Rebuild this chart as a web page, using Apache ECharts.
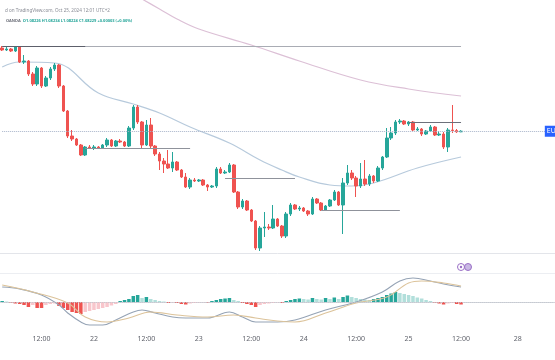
<!DOCTYPE html>
<html><head><meta charset="utf-8">
<script src="https://cdn.jsdelivr.net/npm/echarts/dist/echarts.min.js"></script>
<style>html,body{margin:0;padding:0;background:#fff}#c{width:555px;height:360px}</style>
</head><body><div id="c"></div><script>
// ---- data ----
// hourly candles [open, close, low, high], Oct 21 03:00 -> Oct 25 12:00
const candles = [
[1.08645,1.08635,1.08630,1.08655],[1.08635,1.08640,1.08630,1.08650],[1.08640,1.08630,1.08625,1.08645],[1.08630,1.08650,1.08625,1.08655],
[1.08650,1.08575,1.08570,1.08655],[1.08575,1.08580,1.08565,1.08610],[1.08580,1.08515,1.08505,1.08585],[1.08515,1.08465,1.08455,1.08525],
[1.08465,1.08545,1.08455,1.08555],[1.08545,1.08455,1.08445,1.08550],[1.08455,1.08495,1.08450,1.08505],[1.08495,1.08540,1.08485,1.08550],
[1.08540,1.08560,1.08530,1.08570],[1.08560,1.08455,1.08445,1.08565],[1.08455,1.08330,1.08325,1.08460],[1.08330,1.08205,1.08195,1.08335],
[1.08205,1.08190,1.08180,1.08235],[1.08190,1.08160,1.08155,1.08195],[1.08160,1.08110,1.08105,1.08165],[1.08110,1.08150,1.08105,1.08155],
[1.08150,1.08145,1.08140,1.08160],[1.08145,1.08150,1.08135,1.08160],[1.08150,1.08145,1.08140,1.08155],[1.08145,1.08160,1.08140,1.08165],
[1.08160,1.08185,1.08150,1.08195],[1.08185,1.08155,1.08150,1.08190],[1.08155,1.08180,1.08150,1.08185],[1.08180,1.08175,1.08170,1.08190],
[1.08175,1.08155,1.08150,1.08180],[1.08155,1.08245,1.08150,1.08255],[1.08245,1.08350,1.08235,1.08360],[1.08350,1.08275,1.08265,1.08360],
[1.08275,1.08160,1.08145,1.08280],[1.08160,1.08260,1.08155,1.08285],[1.08260,1.08155,1.08145,1.08295],[1.08155,1.08115,1.08105,1.08160],
[1.08115,1.08080,1.08035,1.08125],[1.08080,1.08065,1.08020,1.08095],[1.08065,1.08045,1.08040,1.08135],[1.08045,1.08075,1.08025,1.08125],
[1.08075,1.08035,1.08030,1.08080],[1.08035,1.08000,1.07995,1.08040],[1.08000,1.07950,1.07945,1.08020],[1.07950,1.07985,1.07940,1.07995],
[1.07985,1.07980,1.07975,1.07995],[1.07980,1.07985,1.07975,1.07990],[1.07985,1.07960,1.07955,1.07990],[1.07960,1.07950,1.07930,1.07965],
[1.07950,1.07955,1.07945,1.07960],[1.07955,1.08040,1.07945,1.08050],[1.08040,1.08020,1.08015,1.08050],[1.08020,1.08025,1.08015,1.08035],
[1.08025,1.08060,1.08020,1.08070],[1.08060,1.07925,1.07920,1.08065],[1.07925,1.07850,1.07840,1.07930],[1.07850,1.07880,1.07840,1.07890],
[1.07880,1.07835,1.07830,1.07885],[1.07835,1.07780,1.07775,1.07840],[1.07780,1.07645,1.07635,1.07785],[1.07645,1.07745,1.07630,1.07755],
[1.07745,1.07750,1.07700,1.07825],[1.07750,1.07745,1.07735,1.07765],[1.07745,1.07790,1.07740,1.07860],[1.07790,1.07755,1.07750,1.07795],
[1.07755,1.07705,1.07695,1.07760],[1.07705,1.07815,1.07695,1.07825],[1.07815,1.07860,1.07805,1.07870],[1.07860,1.07840,1.07835,1.07865],
[1.07840,1.07845,1.07830,1.07855],[1.07845,1.07830,1.07825,1.07850],[1.07830,1.07815,1.07805,1.07835],[1.07815,1.07890,1.07810,1.07900],
[1.07890,1.07870,1.07865,1.07895],[1.07870,1.07835,1.07830,1.07875],[1.07835,1.07855,1.07830,1.07860],[1.07855,1.07885,1.07850,1.07890],
[1.07885,1.07925,1.07880,1.07935],[1.07925,1.07860,1.07855,1.07930],[1.07860,1.07970,1.07715,1.07995],[1.07970,1.08020,1.07960,1.08060],
[1.08020,1.07995,1.07985,1.08035],[1.07995,1.07955,1.07900,1.08005],[1.07955,1.07990,1.07945,1.08070],[1.07990,1.07965,1.07955,1.08085],
[1.07965,1.08005,1.07955,1.08015],[1.08005,1.07980,1.07970,1.08010],[1.07980,1.08045,1.07975,1.08055],[1.08045,1.08100,1.08035,1.08105],
[1.08100,1.08195,1.08095,1.08245],[1.08195,1.08220,1.08185,1.08250],[1.08220,1.08275,1.08210,1.08285],[1.08275,1.08280,1.08265,1.08290],
[1.08280,1.08265,1.08260,1.08285],[1.08265,1.08275,1.08255,1.08280],[1.08275,1.08235,1.08230,1.08280],[1.08235,1.08240,1.08230,1.08250],
[1.08240,1.08215,1.08205,1.08245],[1.08215,1.08230,1.08210,1.08235],[1.08230,1.08250,1.08225,1.08260],[1.08250,1.08210,1.08205,1.08255],
[1.08210,1.08215,1.08205,1.08230],[1.08215,1.08150,1.08140,1.08225],[1.08150,1.08235,1.08125,1.08245],[1.08235,1.08232,1.08220,1.08360],
[1.08232,1.08226,1.08220,1.08240],[1.08226,1.08229,1.08224,1.08234]
];
// moving averages read at sample points [slot index, price]
const maFast = [[0,1.08550],[4,1.08575],[12,1.08570],[22,1.08420],[30,1.08365],[36,1.08320],[43,1.08250],[52,1.08170],[59,1.08085],[64,1.08035],[68,1.08000],[75,1.07960],[80,1.07955],[85,1.07970],[95,1.08045],[105,1.08100]];
const maSlow = [[30,1.08915],[36,1.08840],[40,1.08790],[45,1.08740],[57,1.08660],[68,1.08580],[82,1.08485],[93,1.08440],[105,1.08405]];
// horizontal drawn levels: [fromSlot, toSlot, price]
const levels = [[0,105,1.08655],[0,19,1.08655],[19,43,1.08145],[51,67,1.07995],[73,91,1.07835],[93,105,1.08275]];
// MACD
const macdHist = [0.00001,0.000005,-0.000005,-0.000015,-0.00002,-0.00003,-0.00005,-0.00003,-0.00006,-0.00006,
 -0.00003,-0.00002,-0.000015,-0.00004,-0.00006,-0.00008,-0.0001,-0.00011,-0.00012,-0.0001,
 -0.00009,-0.00008,-0.00007,-0.00006,-0.00005,-0.000035,-0.00002,0.00001,0.00002,0.00003,
 0.00006,0.00007,0.00004,0.00005,0.00003,0.00002,0.00001,0.000005,-0.00001,-0.000005,
 -0.00001,-0.00002,-0.000025,-0.000015,-0.00001,-0.000005,-0.000003,-0.000005,0.00001,0.00002,
 0.00003,0.000035,0.00004,0.00002,0.00001,-0.00001,-0.00002,-0.00003,-0.00005,-0.00003,
 -0.00002,-0.000015,-0.00001,-0.000005,-0.00001,0.00001,0.00002,0.00003,0.000035,0.00003,
 0.000025,0.00004,0.00003,0.000025,0.00004,0.00003,0.000045,0.00003,0.00005,0.000065,
 0.00005,0.00004,0.00003,0.000025,0.00002,0.00003,0.00004,0.00005,0.00007,0.000085,
 0.0001,0.00009,0.00008,0.00007,0.00006,0.000045,0.000035,0.00002,0.00001,-0.000005,
 -0.000015,-0.000025,-0.000015,-0.00001,-0.00002,-0.000025];
const macdLine = [[0,0.00015],[4,0.00013],[9,0.00007],[13,-0.00003],[15,-0.00011],[18,-0.0002],[20,-0.00023],[23,-0.00023],[26,-0.00018],[30,-0.0001],[32,-0.00008],[35,-0.00011],[39,-0.00015],[42,-0.00016],[47,-0.00016],[52,-0.0001],[55,-0.00015],[58,-0.0002],[63,-0.0002],[67,-0.00018],[74,-0.00008],[81,0],[87,0.0001],[91,0.00021],[94,0.00024],[98,0.00021],[101,0.00018],[105,0.00015]];
const signalLine = [[0,0.00017],[7,0.0001],[15,-0.00001],[19,-0.00015],[24,-0.0002],[29,-0.00016],[34,-0.0001],[40,-0.00013],[47,-0.00015],[53,-0.00013],[58,-0.00016],[63,-0.00019],[67,-0.0002],[74,-0.00011],[81,-0.00001],[88,0.00005],[93,0.00019],[96,0.00021],[101,0.00019],[105,0.00016]];
// time axis
const tickIndex = [9,21,33,45,57,69,81,93,105,118];
const tickText = ['12:00','22','12:00','23','12:00','24','12:00','25','12:00','28'];
const lastClose = 1.08229;
const headerLine1 = 'd on TradingView.com, Oct 25, 2024 12:01 UTC+2';
const headerSymbol = 'OANDA';
const headerValues = 'O1.08226 H1.08234 L1.08224 C1.08229 +0.00003 (+0.00%)';

// ---- build ----
const N = 127;
const categories = [];
for (let i = 0; i < N; i++) {
  if (i <= 116) { const h = 3 + i; categories.push('Oct ' + (21 + Math.floor(h/24)) + ' ' + String(h%24).padStart(2,'0') + ':00'); }
  else { const h = 23 + (i - 117); categories.push('Oct ' + (27 + Math.floor(h/24)) + ' ' + String(h%24).padStart(2,'0') + ':00'); }
}
const UP = '#26a69a', DOWN = '#ef5350';
const histData = macdHist.map((v, i) => {
  const p = i > 0 ? macdHist[i-1] : 0;
  let c;
  if (v >= 0) c = v >= p ? '#26a69a' : '#b2dfdb';
  else c = v <= p ? '#ef5350' : '#f8c6cc';
  return { value: v, itemStyle: { color: c } };
});
const levelColors = ['#a9acb4','#5d606b','#8f929b','#8f929b','#8f929b','#6d707a'];
const levelLines = levels.map((l, k) => [
  { coord: [categories[l[0]], l[2]], lineStyle: { color: levelColors[k], width: 1, type: 'solid' } },
  { coord: [categories[l[1]], l[2]] }
]);
const priceLine = [
  { coord: [categories[0], lastClose], lineStyle: { color: '#a7b3c9', width: 1, type: 'dotted' } },
  { coord: [categories[N-1], lastClose] }
];
const chart = echarts.init(document.getElementById('c'), null, { renderer: 'canvas' });
const labelSet = new Set(tickIndex);
chart.setOption({
  animation: false,
  backgroundColor: '#ffffff',
  title: [
    { text: headerLine1, left: 0, top: 3, textStyle: { fontSize: 4.6, color: '#8a8d96', fontWeight: 'normal', fontFamily: 'Noto Sans' } },
    { text: '{g|' + headerSymbol + '}  {t|' + headerValues + '}', left: 1, top: 14,
      textStyle: { fontSize: 4, fontFamily: 'Noto Sans', rich: { g: { fontSize: 4, color: '#6d707a' }, t: { fontSize: 4, color: '#26a69a' } } } }
  ],
  grid: [
    { left: 0, right: 0, top: 0, height: 253 },
    { left: 0, right: 0, top: 273, height: 58 }
  ],
  xAxis: [
    { type: 'category', gridIndex: 0, data: categories, boundaryGap: true,
      axisLine: { show: true, lineStyle: { color: '#e3e5ea' } }, axisTick: { show: false }, axisLabel: { show: false }, splitLine: { show: false } },
    { type: 'category', gridIndex: 1, data: categories, boundaryGap: true,
      axisLine: { show: true, lineStyle: { color: '#d3d6dc' } }, axisTick: { show: false },
      axisLabel: { interval: (idx) => labelSet.has(idx), formatter: (v, idx) => tickText[tickIndex.indexOf(idx)] || '',
        fontSize: 7, color: '#60636c', margin: 4, fontFamily: 'Noto Sans' },
      splitLine: { show: false } }
  ],
  yAxis: [
    { type: 'value', gridIndex: 0, min: 1.0762, max: 1.08885, show: false, splitLine: { show: false } },
    { type: 'value', gridIndex: 1, min: -0.00029, max: 0.00029, interval: 0.00029, show: true,
      axisLine: { show: false }, axisTick: { show: false }, axisLabel: { show: false },
      splitLine: { show: true, lineStyle: { color: ['#ffffff', '#ffffff', '#eceef2'] } } }
  ],
  graphic: [
    { type: 'circle', shape: { cx: 461, cy: 267, r: 3.5 }, style: { fill: '#fff', stroke: '#9a6fc6', lineWidth: 1 } },
    { type: 'circle', shape: { cx: 461, cy: 267, r: 1.2 }, style: { fill: '#9a6fc6' } },
    { type: 'circle', shape: { cx: 468, cy: 267, r: 3.5 }, style: { fill: '#c9b8e4', stroke: '#9a6fc6', lineWidth: 1 } }
  ],
  series: [
    { type: 'line', xAxisIndex: 0, yAxisIndex: 0, data: maSlow, smooth: 0.4, showSymbol: false, symbol: 'none',
      lineStyle: { color: '#dcc0d6', width: 1.2 }, z: 1 },
    { type: 'line', xAxisIndex: 0, yAxisIndex: 0, data: maFast, smooth: 0.4, showSymbol: false, symbol: 'none',
      lineStyle: { color: '#b7cadc', width: 1.2 }, z: 1 },
    { type: 'candlestick', xAxisIndex: 0, yAxisIndex: 0, data: candles, barWidth: 3, z: 3,
      itemStyle: { color: UP, color0: DOWN, borderColor: UP, borderColor0: DOWN, borderWidth: 1 },
      markLine: { silent: true, symbol: ['none', 'none'], label: { show: false }, animation: false,
        data: levelLines.concat([priceLine]) },
      markPoint: { silent: true, animation: false,
        data: [{ coord: [categories[N-1], lastClose], symbol: 'rect', symbolSize: [44, 11], symbolOffset: [14, 0],
          itemStyle: { color: '#2962ff' },
          label: { show: true, formatter: 'EURUSD', position: 'insideLeft', distance: 2, color: '#fff', fontSize: 7, fontFamily: 'Noto Sans' } }] } },
    { type: 'bar', xAxisIndex: 1, yAxisIndex: 1, data: histData, barWidth: '80%', z: 2,
      markLine: { silent: true, symbol: ['none', 'none'], label: { show: false }, animation: false,
        data: [[{ coord: [categories[0], 0], lineStyle: { color: '#c3c7cf', width: 1, type: 'dotted' } }, { coord: [categories[N-1], 0] }]] } },
    { type: 'line', xAxisIndex: 1, yAxisIndex: 1, data: macdLine, smooth: 0.4, showSymbol: false, symbol: 'none',
      lineStyle: { color: '#95a3b5', width: 1.1 }, z: 3 },
    { type: 'line', xAxisIndex: 1, yAxisIndex: 1, data: signalLine, smooth: 0.4, showSymbol: false, symbol: 'none',
      lineStyle: { color: '#dcc39a', width: 1.1 }, z: 3 }
  ]
});
</script></body></html>
